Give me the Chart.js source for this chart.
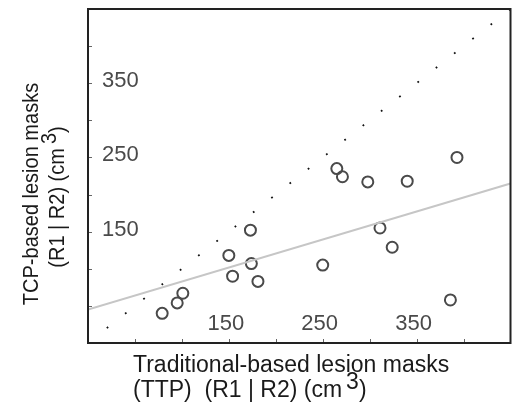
<!DOCTYPE html>
<html>
<head>
<meta charset="utf-8">
<script src="https://cdn.jsdelivr.net/npm/chart.js@4.4.0/dist/chart.umd.min.js"></script>
<style>
html,body{margin:0;padding:0;background:#fff;}
canvas{display:block;}
</style>
</head>
<body>
<canvas id="c" width="518" height="406"></canvas>
<script>
// ---- data ----
const traditionalVolumes = [79, 95, 101, 150, 154, 173, 174, 181, 250, 311, 324, 386, 265, 271, 298, 340, 393];
const tcpVolumes         = [40, 54, 67, 118, 90, 152, 107, 83, 105, 155, 129, 58, 235, 224, 217, 218, 250];
const fitX = [0, 450];
const fitY = [45, 215];
const identityX = [20, 450];
const identityY = [20, 450];
const tickValues = [50, 100, 150, 200, 250, 300, 350, 400];
const tickLabels = [150, 250, 350];
const xTitleLines = ['Traditional-based lesion masks', '(TTP)  (R1 | R2) (cm'];
const yTitleLines = ['TCP-based lesion masks', '(R1 | R2) (cm'];
const superscript = '3';

const FONT = '"Liberation Sans", Arial, Helvetica, sans-serif';

const decorPlugin = {
  id: 'decor',
  afterDraw(chart) {
    const ctx = chart.ctx;
    const a = chart.chartArea;
    const xs = chart.scales.x, ys = chart.scales.y;
    ctx.save();
    // ticks
    ctx.strokeStyle = '#666';
    ctx.lineWidth = 1;
    tickValues.forEach(v => {
      const px = Math.round(xs.getPixelForValue(v)) + 0.5;
      ctx.beginPath(); ctx.moveTo(px, a.bottom); ctx.lineTo(px, a.bottom - 4); ctx.stroke();
      const py = Math.round(ys.getPixelForValue(v)) + 0.5;
      ctx.beginPath(); ctx.moveTo(a.left, py); ctx.lineTo(a.left + 4, py); ctx.stroke();
    });
    // border
    ctx.strokeStyle = '#222';
    ctx.lineWidth = 2;
    ctx.strokeRect(a.left, a.top, a.right - a.left, a.bottom - a.top);
    // tick labels
    ctx.fillStyle = '#4a4a4a';
    ctx.font = '22px ' + FONT;
    ctx.textBaseline = 'alphabetic';
    tickLabels.forEach(v => {
      ctx.textAlign = 'center';
      ctx.fillText(String(v), xs.getPixelForValue(v) - 3, 330);
      ctx.textAlign = 'left';
      ctx.fillText(String(v), 102, ys.getPixelForValue(v) + 4);
    });
    // x title
    ctx.fillStyle = '#1a1a1a';
    ctx.font = '23px ' + FONT;
    ctx.textAlign = 'left';
    ctx.fillText(xTitleLines[0], 133, 372);
    ctx.fillText(xTitleLines[1], 133, 397);
    let w = ctx.measureText(xTitleLines[1]).width;
    ctx.fillText(superscript, 133 + w + 4, 389);
    let w3 = ctx.measureText(superscript).width;
    ctx.fillText(')', 133 + w + 4 + w3, 397);
    // y title
    ctx.font = '20px ' + FONT;
    ctx.save();
    ctx.translate(38, 194);
    ctx.rotate(-Math.PI / 2);
    ctx.scale(1, 1.12);
    ctx.textAlign = 'center';
    ctx.fillText(yTitleLines[0], 0, 0);
    ctx.restore();
    ctx.save();
    ctx.translate(64, 197);
    ctx.rotate(-Math.PI / 2);
    ctx.scale(1, 1.12);
    ctx.textAlign = 'left';
    const wm = ctx.measureText(yTitleLines[1]).width;
    const w3b = ctx.measureText(superscript).width;
    const wp = ctx.measureText(')').width;
    const total = wm + 4 + w3b + wp;
    const start = -total / 2;
    ctx.fillText(yTitleLines[1], start, 0);
    ctx.fillText(superscript, start + wm + 4, -7);
    ctx.fillText(')', start + wm + 4 + w3b, 0);
    ctx.restore();
    ctx.restore();
  }
};

new Chart(document.getElementById('c'), {
  type: 'scatter',
  data: {
    datasets: [
      {
        type: 'line',
        data: identityX.map((x, i) => ({x, y: identityY[i]})),
        borderColor: '#111',
        borderWidth: 1.8,
        borderDash: [1.8, 21.5],
        pointRadius: 0,
        fill: false
      },
      {
        type: 'line',
        data: fitX.map((x, i) => ({x, y: fitY[i]})),
        borderColor: '#c6c6c6',
        borderWidth: 2,
        pointRadius: 0,
        fill: false
      },
      {
        data: traditionalVolumes.map((x, i) => ({x, y: tcpVolumes[i]})),
        pointStyle: 'circle',
        pointRadius: 5.5,
        pointBorderWidth: 2,
        borderColor: '#4a4a4a',
        backgroundColor: 'rgba(0,0,0,0)',
        showLine: false
      }
    ]
  },
  options: {
    responsive: false,
    devicePixelRatio: 1,
    animation: false,
    layout: { padding: { left: 88, top: 9, right: 7, bottom: 63 } },
    plugins: { legend: { display: false }, tooltip: { enabled: false } },
    scales: {
      x: { type: 'linear', min: 0, max: 450, display: false },
      y: { type: 'linear', min: 0, max: 450, display: false }
    }
  },
  plugins: [decorPlugin]
});
</script>
</body>
</html>
